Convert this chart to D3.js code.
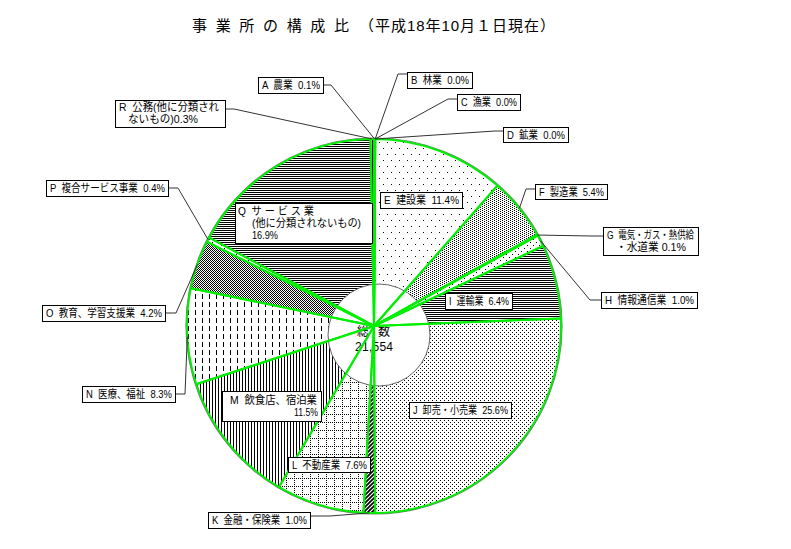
<!DOCTYPE html>
<html><head><meta charset="utf-8">
<script src="https://cdn.jsdelivr.net/npm/d3@7"></script>
<style>body{margin:0;background:#fff}svg{display:block}text{white-space:pre}</style>
</head><body>
<script>
// ---------- data ----------
const titleMain = "事 業 所 の 構 成 比";
const titleDate = "（平成18年10月１日現在）";
const codes = ["A","B","C","D","E","F","G","H","I","J","K","L","M","N","O","P","Q","R"];
const categories = ["農業","林業","漁業","鉱業","建設業","製造業","電気・ガス・熱供給・水道業","情報通信業","運輸業","卸売・小売業","金融・保険業","不動産業","飲食店、宿泊業","医療、福祉","教育、学習支援業","複合サービス事業","サービス業（他に分類されないもの）","公務（他に分類されないもの）"];
const values = [0.1,0.0,0.0,0.0,11.4,5.4,0.1,1.0,6.4,25.6,1.0,7.6,11.5,8.3,4.2,0.4,16.9,0.3];
const totalLabel = "総 数";
const totalValue = "21,554";
// label text lines ({v} = value)
const labelLines = [
 ["A  農業  {v}%"],["B  林業  {v}%"],["C  漁業  {v}%"],["D  鉱業  {v}%"],
 ["E  建設業  {v}%"],["F  製造業  {v}%"],["G  電気・ガス・熱供給","・水道業 {v}%"],
 ["H  情報通信業  {v}%"],["I  運輸業  {v}%"],["J  卸売・小売業  {v}%"],
 ["K  金融・保険業  {v}%"],["L  不動産業  {v}%"],["M  飲食店、宿泊業","{v}%"],
 ["N  医療、福祉  {v}%"],["O  教育、学習支援業  {v}%"],["P  複合サービス事業  {v}%"],
 ["Q  サ ー ビ ス 業","(他に分類されないもの)","{v}%"],["R  公務(他に分類され","ないもの){v}%"]
];

// ---------- layout / style ----------
const W = 791, H = 549;
const cx = 374, cy = 326, R = 187;
const hole = {dx: 5, dy: 9, r: 51};
const green = "#00ee00";
// lines: [dx, baseline dy, anchor, width]
const boxes = {
 A:{x:258,y:77,w:65,h:16,elbow:[331,85]},
 B:{x:407,y:72,w:65,h:16,elbow:[398,74]},
 C:{x:457,y:94,w:63,h:16,elbow:[448,99]},
 D:{x:503,y:127,w:65,h:15,elbow:[495,131]},
 E:{x:380,y:192,w:82,h:16},
 F:{x:535,y:184,w:72,h:15,elbow:[526,189]},
 G:{x:603,y:227,w:95,h:28,elbow:[592,236],lines:[[4,12,"start",87],[13,24,"start",70]]},
 H:{x:601,y:292,w:96,h:16,elbow:[590,300]},
 I:{x:445,y:293,w:67,h:16},
 J:{x:409,y:402,w:102,h:16},
 K:{x:208,y:512,w:102,h:16,elbow:[330,516]},
 L:{x:288,y:457,w:82,h:15},
 M:{x:222,y:391,w:99,h:30,lines:[[8,13,"start",87],[96,25,"end",24]]},
 N:{x:82,y:386,w:93,h:16,elbow:[185,394]},
 O:{x:42,y:305,w:123,h:16,elbow:[176,313]},
 P:{x:46,y:180,w:122,h:16,elbow:[178,188]},
 Q:{x:235,y:203,w:137,h:40,lines:[[3,12,"start",76],[17,24,"start",109],[17,36,"start",26]]},
 R:{x:115,y:100,w:110,h:27,elbow:[234,109],lines:[[4,11,"start",100],[13,23,"start",70]]}
};
const patternOf = {A:"vl2",B:"vl2",C:"vl2",D:"vl2",E:"dotS",F:"dotD",G:"dotG",H:"dotG",I:"hl2",J:"dotM",K:"diag",L:"grid",M:"vl3",N:"dash",O:"chk",P:"dotG",Q:"hl2",R:"vl2"};

const svg = d3.select("body").append("svg").attr("width",W).attr("height",H)
  .style("font-family","'Liberation Sans','Noto Sans CJK JP',sans-serif");
const defs = svg.append("defs");
function pat(id,w,h,draw){
  const p = defs.append("pattern").attr("id",id).attr("patternUnits","userSpaceOnUse")
    .attr("width",w).attr("height",h);
  p.append("rect").attr("width",w).attr("height",h).attr("fill","#fff");
  draw(p);
}
function dots(p,pts,w=1,h=1){pts.forEach(([x,y])=>p.append("rect").attr("x",x).attr("y",y).attr("width",w).attr("height",h).attr("fill","#000"));}
pat("dotS",8,12,p=>dots(p,[[1,2],[5,8]]));
pat("dotD",4,2,p=>dots(p,[[0,0],[2,1]]));
pat("dotG",6,6,p=>dots(p,[[0,0],[3,3]]));
pat("dotM",4,4,p=>dots(p,[[0,0],[2,2]]));
pat("hl2",2,2,p=>dots(p,[[0,0]],2,1));
pat("vl2",2,2,p=>dots(p,[[0,0]],1,2));
pat("vl3",3,3,p=>dots(p,[[0,0]],1,3));
pat("chk",2,2,p=>dots(p,[[0,0],[1,1]]));
pat("dash",7,8,p=>dots(p,[[3,0]],1,5));
pat("grid",8,8,p=>dots(p,[[0,0],[2,0],[4,0],[6,0],[0,2],[0,4],[0,6]]));
pat("diag",4,4,p=>p.append("path").attr("d","M-1,5L5,-1M-1,1L1,-1M3,5L5,3").attr("stroke","#000").attr("stroke-width",1.6));

function fit(sel, width){
  const n = sel.node().getComputedTextLength();
  if (Math.abs(n-width) > 0.5) sel.attr("textLength",width).attr("lengthAdjust", n>width ? "spacingAndGlyphs" : "spacing");
  return sel;
}

// ---------- title ----------
fit(svg.append("text").attr("x",192).attr("y",31).attr("font-size",15).text(titleMain),157);
fit(svg.append("text").attr("x",359).attr("y",31).attr("font-size",15).text(titleDate),196);

// ---------- pie ----------
const data = codes.map((c,i)=>({code:c,name:categories[i],v:values[i],i}));
const pie = d3.pie().sort(null).value(d=>d.v).startAngle(0).endAngle(2*Math.PI);
const arcs = pie(data);
const arc = d3.arc().innerRadius(0).outerRadius(R);
const g = svg.append("g").attr("transform",`translate(${cx},${cy})`);
g.append("circle").attr("r",R+1).attr("fill","#fff").attr("stroke","#777").attr("stroke-width",1.2);
g.selectAll("path.fill").data(arcs).join("path").attr("class","fill")
  .attr("d",arc).attr("fill",d=>`url(#${patternOf[d.data.code]})`)
  .attr("shape-rendering","crispEdges");
// hole
g.append("circle").attr("cx",hole.dx).attr("cy",hole.dy).attr("r",hole.r)
  .attr("fill","#fff").attr("stroke","#666").attr("stroke-width",1);
fit(g.append("text").attr("font-size",12).attr("x",-17).attr("y",10).text(totalLabel),33);
fit(g.append("text").attr("font-size",12).attr("x",-19).attr("y",25).text(totalValue),38);
// green outlines
g.selectAll("path.edge").data(arcs).join("path").attr("class","edge")
  .attr("d",arc).attr("fill","none").attr("stroke",green).attr("stroke-width",2)
  .attr("stroke-linejoin","round");

// ---------- labels ----------
const lab = svg.append("g").attr("font-size",11);
arcs.forEach(a=>{
  const c = a.data.code, b = boxes[c];
  const vtxt = a.data.v.toFixed(1);
  if (b.elbow){
    const mid = (a.startAngle+a.endAngle)/2;
    const [px,py] = d3.pointRadial(mid,R);
    const ex = b.elbow[0] < b.x ? b.x : b.x+b.w;
    lab.append("polyline").attr("points",[[cx+px,cy+py],b.elbow,[ex,b.elbow[1]]].map(p=>p.join(",")).join(" "))
      .attr("fill","none").attr("stroke","#333").attr("stroke-width",1);
  }
  lab.append("rect").attr("x",b.x+0.5).attr("y",b.y+0.5).attr("width",b.w).attr("height",b.h)
    .attr("fill","#fff").attr("stroke","#000").attr("stroke-width",1);
  const lines = labelLines[a.data.i];
  const pos = b.lines || [[4,12,"start",b.w-7]];
  lines.forEach((s,k)=>{
    const [dx,dy,anchor,tw] = pos[k];
    const x0 = anchor==="end" ? b.x+dx-tw : b.x+dx;
    fit(lab.append("text").attr("x",x0).attr("y",b.y+dy).text(s.replace("{v}",vtxt)), tw);
  });
});
</script>
</body></html>
